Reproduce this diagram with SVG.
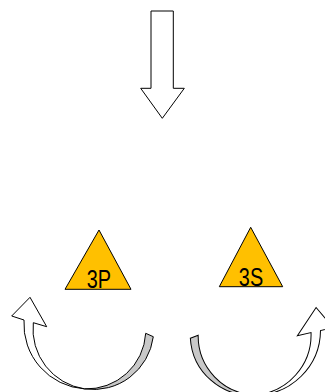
<svg xmlns="http://www.w3.org/2000/svg" xmlns:xlink="http://www.w3.org/1999/xlink" width="325" height="392" viewBox="0 0 325 392">
<style>
.ln{stroke:#000;stroke-width:1;stroke-linejoin:miter}
.wh{fill:#fff}
.gr{fill:#c8c8c8}
.tri{fill:#ffc000;stroke:#000;stroke-width:1}
.lbl{font-family:"Liberation Sans",Arial,sans-serif;font-size:25.5px;fill:#000;text-anchor:middle}
</style>
<defs>
<g id="curvedArrow">
<path class="ln gr" d="M153.3,336.7 L145.7,333.3 A59.1,59.1 0 0 1 84.6,388.9 A60.5,60.5 0 0 0 153.3,336.7 Z"/>
<path class="ln wh" d="M84.6,388.9 A60.5,60.5 0 0 1 33.3,322.7 L46.7,326.7 L30,297.3 L11.7,316 L24,320 A65,65 0 0 0 84.6,388.9 Z"/>
</g>
</defs>
<g id="down-arrow">
<path class="ln wh" d="M151,11 L173.3,11 L173.3,88.3 L184.3,88.3 L162.3,118.3 L140.7,88.3 L151,88.3 Z"/>
</g>
<g id="node-3P">
<path class="tri" d="M99,230 L131,289.3 L65,289.3 Z"/>
<text class="lbl" transform="translate(98.9,287.7) scale(0.78,1)">3P</text>
</g>
<g id="node-3S">
<path class="tri" d="M250.7,227.3 L282.7,286.7 L219.3,286.7 Z"/>
<text class="lbl" transform="translate(251,285.7) scale(0.78,1)">3S</text>
</g>
<g id="curved-arrow-left">
<use xlink:href="#curvedArrow"/>
</g>
<g id="curved-arrow-right">
<use xlink:href="#curvedArrow" transform="rotate(4,170,318) translate(345,0) scale(-1,1)"/>
</g>
</svg>
